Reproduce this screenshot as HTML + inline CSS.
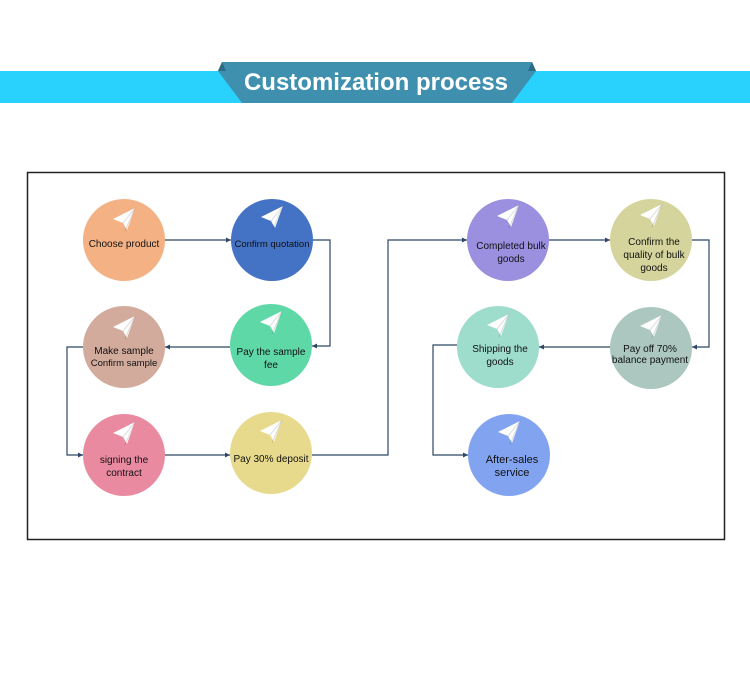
<!DOCTYPE html>
<html><head><style>
html,body{margin:0;padding:0;background:#fff;width:750px;height:687px;overflow:hidden}
text{font-family:"Liberation Sans",Arial,sans-serif;fill:#111}
</style></head><body>
<svg width="750" height="687" viewBox="0 0 750 687" xmlns="http://www.w3.org/2000/svg">
<defs>
<marker id="a" markerWidth="6" markerHeight="6" refX="5" refY="3" orient="auto" markerUnits="userSpaceOnUse"><path d="M0,0.5 L5,3 L0,5.5 Z" fill="#2e4766"/></marker>
<g id="p"><path d="M-11,-1 L11,-12 L3,10 L-1,3 Z" fill="#fff"/><path d="M-1,3 L11,-12 L1,11" fill="none" stroke="rgba(0,0,0,0.15)" stroke-width="1"/></g>
</defs>
<rect x="0" y="71" width="750" height="32" fill="#29d2fc"/>
<polygon points="222,62 532,62 536,71 512,103 242,103 218,71" fill="#3f8fae"/>
<polygon points="218,71 222,62 226,71" fill="#2d6a84"/>
<polygon points="528,71 532,62 536,71" fill="#2d6a84"/>
<text x="376" y="90" text-anchor="middle" font-size="24" font-weight="bold" style="fill:#fff">Customization process</text>
<rect x="27.5" y="172.5" width="697" height="367" fill="none" stroke="#222" stroke-width="1.5"/>
<g fill="none" stroke="#2e4766" stroke-width="1.2">
<path d="M165,240 H231" marker-end="url(#a)"/>
<path d="M313,240 H330 V346 H312" marker-end="url(#a)"/>
<path d="M230,347 H165" marker-end="url(#a)"/>
<path d="M83,347 H67 V455 H83" marker-end="url(#a)"/>
<path d="M165,455 H230" marker-end="url(#a)"/>
<path d="M312,455 H388 V240 H467" marker-end="url(#a)"/>
<path d="M549,240 H610" marker-end="url(#a)"/>
<path d="M692,240 H709 V347 H692" marker-end="url(#a)"/>
<path d="M610,347 H539" marker-end="url(#a)"/>
<path d="M457,345 H433 V455 H468" marker-end="url(#a)"/>
</g>
<circle cx="124" cy="240" r="41" fill="#f4b183"/>
<circle cx="272" cy="240" r="41" fill="#4472c4"/>
<circle cx="271" cy="345" r="41" fill="#5fd8a8"/>
<circle cx="124" cy="347" r="41" fill="#d2ab9c"/>
<circle cx="124" cy="455" r="41" fill="#e98aa0"/>
<circle cx="271" cy="453" r="41" fill="#e8da8c"/>
<circle cx="508" cy="240" r="41" fill="#9b8fe0"/>
<circle cx="651" cy="240" r="41" fill="#d4d49c"/>
<circle cx="651" cy="348" r="41" fill="#abc7c0"/>
<circle cx="498" cy="347" r="41" fill="#9edccc"/>
<circle cx="509" cy="455" r="41" fill="#82a4f0"/>
<use href="#p" x="124" y="220"/><use href="#p" x="272" y="218"/><use href="#p" x="271" y="323"/>
<use href="#p" x="124" y="328"/><use href="#p" x="124" y="434"/><use href="#p" x="271" y="432"/>
<use href="#p" x="508" y="217"/><use href="#p" x="651" y="216"/><use href="#p" x="651" y="327"/>
<use href="#p" x="498" y="326"/><use href="#p" x="509" y="433"/>
<g font-size="10" text-anchor="middle">
<text x="124" y="247">Choose product</text>
<text x="272" y="247" font-size="9.5">Confirm quotation</text>
<text x="271" y="355">Pay the sample</text><text x="271" y="368">fee</text>
<text x="124" y="354">Make sample</text><text x="124" y="366" font-size="9.5">Confirm sample</text>
<text x="124" y="463">signing the</text><text x="124" y="476">contract</text>
<text x="271" y="462">Pay 30% deposit</text>
<text x="511" y="249">Completed bulk</text><text x="511" y="262">goods</text>
<text x="654" y="245">Confirm the</text><text x="654" y="258">quality of bulk</text><text x="654" y="271">goods</text>
<text x="650" y="352">Pay off 70%</text><text x="650" y="363">balance payment</text>
<text x="500" y="352">Shipping the</text><text x="500" y="365">goods</text>
<text x="512" y="463" font-size="11">After-sales</text><text x="512" y="476" font-size="11">service</text>
</g>
</svg>
</body></html>
